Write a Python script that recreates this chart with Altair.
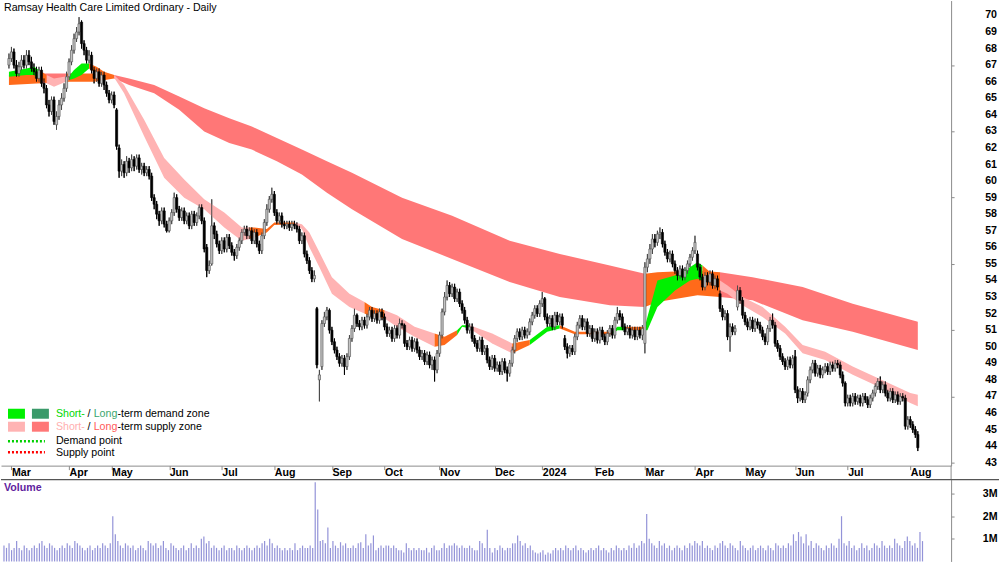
import altair as alt
import pandas as pd

FONT = "Liberation Sans"
FS = 10.67

TITLE = "Ramsay Health Care Limited Ordinary - Daily"

OPEN = [
    67.0, 67.4, 67.8, 67.0, 66.5, 66.9, 67.3, 67.0, 67.6, 67.2,
    66.8, 66.6, 66.2, 66.7, 65.9, 65.6, 64.6, 64.2, 64.9, 63.4,
    63.9, 64.6, 65.0, 65.6, 66.3, 67.2, 67.9, 68.6, 69.0, 69.6,
    68.3, 67.9, 67.3, 67.6, 66.7, 66.2, 66.6, 65.9, 66.4, 65.8,
    65.3, 64.9, 65.2, 64.3, 62.0, 60.6, 61.0, 60.5, 61.2, 60.8,
    61.3, 60.9, 61.4, 60.7, 60.9, 60.5, 60.7, 60.3, 59.0, 58.6,
    58.0, 57.6, 58.2, 57.4, 57.0, 57.6, 58.1, 59.0, 58.3, 57.8,
    58.2, 57.6, 57.9, 57.3, 58.0, 57.5, 57.9, 58.4, 57.6, 56.0,
    54.6, 55.0, 57.3, 56.8, 56.2, 55.8, 56.4, 55.9, 56.6, 56.1,
    55.7, 55.5, 56.0, 56.4, 56.9, 57.1, 56.7, 57.0, 56.4, 56.9,
    56.2, 55.8, 56.7, 57.5, 58.3, 58.9, 59.2, 58.1, 57.6, 57.9,
    57.4, 57.3, 57.4, 57.2, 57.4, 57.3, 57.1, 56.4, 56.7, 55.6,
    55.2, 54.6, 54.1, 52.3, 48.0, 48.8, 51.4, 51.8, 52.2, 51.0,
    50.3, 49.8, 49.4, 49.0, 49.3, 48.8, 49.4, 50.5, 51.1, 51.9,
    51.4, 51.2, 51.6, 51.3, 51.8, 52.2, 51.7, 52.0, 51.6, 52.1,
    51.8, 51.2, 50.8, 51.0, 50.5, 51.1, 50.7, 51.4, 51.3, 50.2,
    50.0, 50.4, 49.9, 50.3, 49.8, 49.4, 49.6, 49.1, 49.5, 48.9,
    49.2, 48.6, 49.6, 50.7, 52.1, 53.0, 53.7, 53.2, 53.6, 52.9,
    53.3, 52.6, 52.2, 51.6, 51.0, 51.2, 50.5, 50.2, 49.9, 50.4,
    49.7, 49.9, 49.2, 48.8, 49.3, 48.7, 48.9, 48.5, 49.1, 48.6,
    48.4, 49.0, 49.8, 50.5, 50.9, 50.6, 51.0, 50.7, 50.9, 51.5,
    51.9, 52.3, 52.0, 52.6, 52.9, 51.8, 51.4, 51.7, 51.2, 51.9,
    51.5, 51.8, 50.5, 50.0, 49.6, 49.9, 49.7, 50.6, 51.3, 51.7,
    51.2, 51.5, 50.8, 51.1, 50.5, 50.9, 50.4, 51.0, 50.6, 50.3,
    50.8, 51.1, 50.7, 51.6, 52.0, 51.8, 51.2, 50.9, 51.1, 50.7,
    51.0, 50.6, 51.0, 50.7, 50.2, 54.8, 55.3, 55.9, 56.5, 56.3,
    56.8, 56.9, 56.2, 55.7, 55.3, 55.6, 55.0, 54.6, 54.3, 54.7,
    54.2, 54.6, 55.0, 55.4, 55.8, 55.6, 54.8, 54.2, 53.6, 54.3,
    53.9, 54.4, 53.7, 54.1, 53.2, 52.3, 51.8, 52.0, 50.6, 51.2,
    50.9, 52.4, 53.4, 52.8, 51.9, 51.5, 51.2, 51.6, 51.1, 51.5,
    51.3, 51.0, 50.6, 50.3, 51.1, 51.6, 51.3, 50.2, 49.9, 49.4,
    49.1, 48.8, 49.2, 48.9, 49.4, 47.4, 46.9, 47.3, 46.8, 47.2,
    48.0, 48.6, 49.0, 48.4, 48.7, 48.3, 48.6, 48.8, 48.5, 48.9,
    48.7, 49.0, 48.9, 48.3, 47.8, 46.6, 46.9, 46.6, 47.0, 46.7,
    46.9, 46.6, 47.0, 46.8, 46.5, 46.9, 47.2, 47.6, 47.9, 47.4,
    47.7, 47.2, 46.9, 47.3, 46.8, 47.1, 46.7, 47.0, 46.9, 45.2,
    45.6, 45.3, 45.0, 44.7,
]

HIGH = [
    67.7, 68.1, 68.0, 67.3, 67.2, 67.6, 67.6, 67.9, 67.9, 67.5,
    67.1, 66.9, 66.9, 66.9, 66.2, 65.8, 64.9, 65.1, 65.1, 64.2,
    64.9, 65.3, 65.9, 66.6, 67.4, 68.2, 68.9, 69.3, 69.9, 69.7,
    68.5, 68.1, 67.9, 67.8, 66.9, 66.8, 66.8, 66.6, 66.6, 66.0,
    65.5, 65.4, 65.4, 64.4, 62.2, 61.3, 61.2, 61.5, 61.4, 61.6,
    61.5, 61.6, 61.6, 61.1, 61.1, 60.9, 60.9, 60.5, 59.2, 58.8,
    58.2, 58.4, 58.4, 57.6, 57.8, 58.3, 59.3, 59.2, 58.5, 58.4,
    58.4, 58.1, 58.1, 58.2, 58.2, 58.1, 58.6, 58.6, 57.8, 56.2,
    55.2, 58.9, 57.5, 57.0, 56.4, 56.6, 56.6, 56.8, 56.8, 56.3,
    55.9, 56.2, 56.6, 57.1, 57.3, 57.3, 57.2, 57.2, 57.1, 57.1,
    56.4, 56.9, 57.7, 58.6, 59.1, 59.6, 59.4, 58.3, 58.1, 58.1,
    57.6, 57.6, 57.6, 57.6, 57.6, 57.5, 57.3, 56.9, 56.9, 55.8,
    55.4, 54.8, 54.6, 52.4, 48.6, 51.6, 52.1, 52.4, 52.3, 51.2,
    50.5, 50.0, 49.6, 49.5, 49.5, 49.6, 50.7, 51.3, 52.3, 52.0,
    51.6, 51.8, 51.8, 52.0, 52.4, 52.4, 52.2, 52.2, 52.3, 52.3,
    52.0, 51.4, 51.2, 51.2, 51.3, 51.3, 51.7, 51.6, 51.4, 50.4,
    50.6, 50.6, 50.5, 50.5, 50.0, 49.8, 49.8, 49.7, 49.7, 49.4,
    49.4, 49.8, 50.9, 52.3, 53.3, 54.0, 53.9, 53.8, 53.8, 53.5,
    53.5, 52.8, 52.4, 51.8, 51.4, 51.4, 50.7, 50.4, 50.6, 50.6,
    50.1, 50.1, 49.4, 49.5, 49.5, 49.1, 49.1, 49.3, 49.3, 48.8,
    49.2, 50.0, 50.7, 51.1, 51.1, 51.2, 51.2, 51.1, 51.7, 52.1,
    52.5, 52.5, 52.8, 53.3, 53.0, 52.0, 51.9, 51.9, 52.1, 52.1,
    52.0, 52.0, 50.7, 50.2, 50.1, 50.1, 50.8, 51.5, 51.9, 51.9,
    51.7, 51.7, 51.3, 51.3, 51.1, 51.1, 51.2, 51.2, 50.8, 51.0,
    51.3, 51.3, 51.8, 52.4, 52.2, 52.0, 51.4, 51.3, 51.3, 51.2,
    51.2, 51.2, 51.2, 51.3, 55.1, 55.6, 56.2, 56.8, 56.8, 57.0,
    57.2, 57.1, 56.4, 55.9, 55.8, 55.8, 55.2, 54.8, 54.9, 54.9,
    54.8, 55.2, 55.6, 56.0, 56.7, 55.8, 55.0, 54.4, 54.5, 54.5,
    54.6, 54.6, 54.3, 54.3, 53.4, 52.5, 52.2, 52.2, 51.4, 51.4,
    51.3, 53.7, 53.6, 53.0, 52.1, 51.7, 51.8, 51.8, 51.7, 51.7,
    51.5, 51.2, 50.8, 51.3, 51.8, 52.0, 51.5, 50.4, 50.1, 49.6,
    49.3, 49.4, 49.4, 49.5, 49.8, 47.6, 47.5, 47.5, 47.3, 48.2,
    48.8, 49.2, 49.2, 48.9, 48.9, 48.8, 49.0, 49.0, 49.1, 49.1,
    49.2, 49.2, 49.1, 48.5, 47.9, 47.1, 47.1, 47.2, 47.2, 47.1,
    47.1, 47.2, 47.2, 47.0, 47.1, 47.4, 47.8, 48.1, 48.2, 47.9,
    47.9, 47.4, 47.5, 47.5, 47.3, 47.3, 47.2, 47.2, 47.1, 45.8,
    45.8, 45.5, 45.2, 44.9,
]

LOW = [
    66.8, 67.2, 66.8, 66.3, 66.3, 66.7, 66.8, 66.8, 67.0, 66.6,
    66.4, 66.0, 66.0, 65.7, 65.3, 64.4, 63.9, 64.0, 63.4, 63.1,
    63.7, 64.3, 64.8, 65.4, 66.1, 67.0, 67.7, 68.4, 68.8, 68.0,
    67.6, 67.1, 67.1, 66.5, 65.9, 66.0, 65.7, 65.7, 65.5, 65.1,
    64.7, 64.7, 64.4, 61.9, 60.2, 60.3, 60.2, 60.3, 60.5, 60.6,
    60.6, 60.7, 60.5, 60.4, 60.3, 60.3, 60.1, 58.8, 58.3, 57.7,
    57.3, 57.4, 57.2, 56.9, 56.9, 57.4, 57.9, 58.1, 57.6, 57.6,
    57.4, 57.4, 57.1, 57.1, 57.3, 57.3, 57.7, 57.4, 55.7, 54.2,
    54.4, 54.9, 56.5, 56.0, 55.6, 55.6, 55.7, 55.7, 55.9, 55.5,
    55.2, 55.3, 55.8, 56.2, 56.7, 56.5, 56.5, 56.2, 56.2, 56.0,
    55.6, 55.6, 56.5, 57.3, 58.1, 58.7, 57.9, 57.4, 57.4, 57.2,
    57.1, 57.1, 57.0, 57.0, 57.1, 56.9, 56.2, 56.2, 55.4, 55.0,
    54.4, 53.9, 53.9, 48.7, 46.7, 48.6, 51.2, 51.6, 50.8, 50.1,
    49.6, 49.2, 48.8, 48.8, 48.3, 48.6, 49.2, 50.3, 50.9, 51.2,
    51.0, 51.0, 51.1, 51.1, 51.6, 51.5, 51.5, 51.4, 51.4, 51.6,
    51.0, 50.6, 50.6, 50.3, 50.3, 50.5, 50.5, 51.1, 50.0, 49.8,
    49.8, 49.7, 49.7, 49.6, 49.2, 49.2, 48.9, 48.9, 48.7, 48.6,
    47.9, 48.4, 49.4, 50.5, 51.9, 52.8, 53.0, 53.0, 52.7, 52.7,
    52.4, 52.0, 51.4, 50.8, 50.8, 50.3, 50.0, 49.7, 49.7, 49.5,
    49.5, 49.0, 48.6, 48.6, 48.5, 48.5, 48.3, 48.3, 48.4, 47.9,
    48.2, 48.8, 49.6, 50.3, 50.4, 50.4, 50.5, 50.5, 50.7, 51.3,
    51.7, 51.8, 51.8, 52.4, 51.6, 51.2, 51.2, 51.0, 51.0, 51.3,
    51.3, 51.1, 49.8, 49.3, 49.4, 49.5, 49.5, 50.4, 51.1, 51.0,
    51.0, 50.6, 50.6, 50.3, 50.3, 50.2, 50.2, 50.4, 50.1, 50.1,
    50.6, 50.5, 50.5, 51.4, 51.6, 51.0, 50.7, 50.7, 50.5, 50.5,
    50.4, 50.4, 50.5, 50.4, 49.6, 54.5, 55.0, 55.6, 56.0, 56.1,
    56.5, 56.0, 55.5, 55.1, 55.1, 54.8, 54.4, 54.0, 54.1, 54.0,
    54.0, 54.4, 54.8, 55.2, 55.6, 54.6, 54.0, 53.4, 53.4, 53.7,
    53.7, 53.5, 53.5, 53.4, 52.1, 51.6, 51.6, 50.4, 49.7, 50.7,
    50.7, 52.2, 52.6, 51.7, 51.3, 51.0, 51.0, 50.9, 50.9, 51.1,
    50.8, 50.4, 50.1, 50.1, 50.9, 51.1, 50.0, 49.7, 49.2, 48.9,
    48.6, 48.6, 48.7, 48.7, 47.2, 46.6, 46.7, 46.6, 46.6, 47.0,
    47.8, 48.4, 48.2, 48.2, 48.1, 48.1, 48.4, 48.3, 48.3, 48.5,
    48.5, 48.7, 48.1, 47.6, 46.4, 46.4, 46.4, 46.4, 46.5, 46.5,
    46.4, 46.4, 46.6, 46.3, 46.3, 46.7, 47.0, 47.4, 47.2, 47.2,
    47.0, 46.7, 46.7, 46.6, 46.6, 46.5, 46.5, 46.7, 45.0, 45.0,
    45.1, 44.8, 44.5, 43.7,
]

CLOSE = [
    67.4, 67.8, 67.0, 66.5, 66.9, 67.3, 67.0, 67.6, 67.2, 66.8,
    66.6, 66.2, 66.7, 65.9, 65.6, 64.6, 64.2, 64.9, 63.6, 63.9,
    64.6, 65.0, 65.6, 66.3, 67.2, 67.9, 68.6, 69.0, 69.5, 68.3,
    67.9, 67.3, 67.6, 66.7, 66.2, 66.6, 65.9, 66.4, 65.8, 65.3,
    64.9, 65.2, 64.6, 62.1, 60.6, 61.0, 60.5, 61.2, 60.8, 61.3,
    60.9, 61.4, 60.7, 60.9, 60.5, 60.7, 60.3, 59.0, 58.6, 58.0,
    57.6, 58.2, 57.4, 57.0, 57.6, 58.1, 59.0, 58.3, 57.8, 58.2,
    57.6, 57.9, 57.3, 58.0, 57.5, 57.9, 58.4, 57.6, 55.9, 54.6,
    54.9, 57.3, 56.8, 56.2, 55.8, 56.4, 55.9, 56.6, 56.1, 55.7,
    55.5, 56.0, 56.4, 56.9, 57.1, 56.7, 57.0, 56.4, 56.9, 56.2,
    55.8, 56.7, 57.5, 58.3, 58.9, 59.2, 58.1, 57.6, 57.9, 57.4,
    57.3, 57.4, 57.2, 57.4, 57.3, 57.1, 56.4, 56.7, 55.6, 55.2,
    54.6, 54.1, 54.3, 48.9, 48.3, 51.4, 51.8, 52.2, 51.0, 50.3,
    49.8, 49.4, 49.0, 49.3, 48.8, 49.4, 50.5, 51.1, 51.9, 51.4,
    51.2, 51.6, 51.3, 51.8, 52.2, 51.7, 52.0, 51.6, 52.1, 51.8,
    51.2, 50.8, 51.0, 50.5, 51.1, 50.7, 51.4, 51.3, 50.2, 50.0,
    50.4, 49.9, 50.3, 49.8, 49.4, 49.6, 49.1, 49.5, 48.9, 49.2,
    48.6, 49.6, 50.7, 52.1, 53.0, 53.7, 53.2, 53.6, 52.9, 53.3,
    52.6, 52.2, 51.6, 51.0, 51.2, 50.5, 50.2, 49.9, 50.4, 49.7,
    49.9, 49.2, 48.8, 49.3, 48.7, 48.9, 48.5, 49.1, 48.6, 48.4,
    49.0, 49.8, 50.5, 50.9, 50.6, 51.0, 50.7, 50.9, 51.5, 51.9,
    52.3, 52.0, 52.6, 52.9, 51.8, 51.4, 51.7, 51.2, 51.9, 51.5,
    51.8, 51.3, 50.0, 49.6, 49.9, 49.7, 50.6, 51.3, 51.7, 51.2,
    51.5, 50.8, 51.1, 50.5, 50.9, 50.4, 51.0, 50.6, 50.3, 50.8,
    51.1, 50.7, 51.6, 52.0, 51.8, 51.2, 50.9, 51.1, 50.7, 51.0,
    50.6, 51.0, 50.7, 51.1, 54.8, 55.3, 55.9, 56.5, 56.3, 56.8,
    56.9, 56.2, 55.7, 55.3, 55.6, 55.0, 54.6, 54.3, 54.7, 54.2,
    54.6, 55.0, 55.4, 55.8, 56.3, 54.8, 54.2, 53.6, 54.3, 53.9,
    54.4, 53.7, 54.1, 53.6, 52.3, 51.8, 52.0, 50.6, 51.2, 50.9,
    51.1, 53.4, 52.8, 51.9, 51.5, 51.2, 51.6, 51.1, 51.5, 51.3,
    51.0, 50.6, 50.3, 51.1, 51.6, 51.3, 50.2, 49.9, 49.4, 49.1,
    48.8, 49.2, 48.9, 49.3, 47.4, 46.9, 47.3, 46.8, 47.1, 48.0,
    48.6, 49.0, 48.4, 48.7, 48.3, 48.6, 48.8, 48.5, 48.9, 48.7,
    49.0, 48.9, 48.3, 47.8, 46.6, 46.9, 46.6, 47.0, 46.7, 46.9,
    46.6, 47.0, 46.8, 46.5, 46.9, 47.2, 47.6, 47.9, 47.4, 47.7,
    47.2, 46.9, 47.3, 46.8, 47.1, 46.7, 47.0, 46.9, 45.2, 45.6,
    45.3, 45.0, 44.7, 43.9,
]

VOLUME_M = [
    0.7, 0.6, 0.8, 0.5, 0.6, 0.9, 0.6, 0.5, 0.7, 0.6,
    0.5, 0.6, 0.7, 0.6, 0.8, 0.9, 0.7, 0.6, 0.8, 0.7,
    0.6, 0.5, 0.6, 0.7, 0.6, 0.8, 0.7, 0.6, 0.9, 0.8,
    0.7, 0.6, 0.5, 0.6, 0.7, 0.5, 0.6, 0.7, 0.6, 0.8,
    0.7, 0.6, 0.8, 2.0, 1.2, 0.9, 0.7, 0.6, 0.8, 0.7,
    0.6, 0.7, 0.5, 0.6, 0.7, 0.6, 0.5, 0.9, 0.8, 0.7,
    0.8, 0.6, 0.7, 0.9, 0.6, 0.5, 0.8, 0.7, 0.6, 0.5,
    0.6, 0.7, 0.5, 0.6, 0.8, 0.6, 0.7, 0.6, 1.0, 1.1,
    0.8, 0.9, 0.6, 0.7, 0.6, 0.5, 0.6, 0.7, 0.5, 0.6,
    0.6, 0.5, 0.7, 0.6, 0.5, 0.6, 0.7, 0.6, 0.5, 0.6,
    0.7, 0.6, 0.8, 0.9, 0.7, 1.0, 0.8, 0.6, 0.7, 0.6,
    0.5, 0.6, 0.5, 0.6, 0.5, 0.8, 0.5, 0.6, 0.7, 0.6,
    0.6, 0.7, 0.6, 3.5, 2.3, 0.9, 0.95, 0.8, 1.5, 0.6,
    0.9, 0.7, 0.6, 0.85, 0.7, 0.8, 0.6, 0.6, 0.7, 0.6,
    0.8, 0.85, 0.6, 1.2, 0.7, 0.8, 1.15, 0.5, 0.6, 0.7,
    0.6, 0.7, 0.7, 0.6, 0.7, 0.6, 0.5, 0.5, 0.4, 0.8,
    0.6, 0.5, 0.6, 0.5, 0.6, 0.5, 0.5, 0.6, 0.4, 0.6,
    0.7, 0.5, 0.5, 0.6, 0.8, 0.6, 0.7, 0.7, 0.8, 0.7,
    0.6, 0.7, 0.6, 0.6, 0.7, 0.6, 0.5, 0.5, 0.9, 0.8,
    0.6, 1.4, 0.6, 0.4, 0.6, 0.5, 0.7, 0.6, 0.5, 0.6,
    0.6, 0.8, 0.8, 1.15, 0.9, 0.7, 0.8, 0.6, 0.7, 0.5,
    0.4, 0.35, 0.4, 0.5, 0.3, 0.4, 0.35, 0.5, 0.6, 0.5,
    0.6, 0.5, 0.7, 0.6, 0.5, 0.6, 0.7, 0.5, 0.6, 0.5,
    0.4, 0.5, 0.6, 0.5, 0.6, 0.7, 0.5, 0.6, 0.5, 0.4,
    0.6, 0.5, 0.7, 0.6, 0.5, 0.6, 0.5, 0.7, 0.6, 0.8,
    0.6, 0.7, 0.9, 0.8, 2.1, 1.0, 0.8, 0.7, 0.6, 0.9,
    0.7, 0.8, 0.6, 0.7, 0.5, 0.6, 0.7, 0.6, 0.5, 0.7,
    0.6, 0.8, 0.7, 0.9, 0.8, 0.7, 0.9, 0.6, 0.7, 0.6,
    0.5, 0.7, 0.6, 0.8, 0.9, 0.7, 0.6, 0.8, 0.7, 0.6,
    0.5, 0.9, 0.7, 0.6, 0.5, 0.6, 0.7, 0.5, 0.6, 0.7,
    0.6, 0.5, 0.7, 0.6, 0.5, 0.8, 0.7, 0.6, 0.7, 0.6,
    0.8, 0.7, 1.2, 0.9, 1.3, 1.1, 0.8, 1.2, 0.7, 0.9,
    0.6, 0.8, 0.7, 0.6, 0.5, 0.7, 0.6, 0.8, 0.7, 0.6,
    1.0, 2.0, 0.8, 0.7, 0.9, 0.6, 0.7, 0.5, 0.6, 0.8,
    0.6, 0.7, 0.5, 0.6, 0.8, 0.7, 0.6, 0.9, 0.7, 0.6,
    0.7, 0.6, 1.0, 0.8, 0.7, 0.6, 0.9, 1.1, 0.9, 0.7,
    0.8, 0.6, 1.3, 0.9,
]

# Long-term band (trading-day index, lower edge, upper edge) and zone of each interval
LONG_I = [0, 13, 23, 34, 42, 48, 58, 68, 78, 88, 97, 107, 117, 127, 137, 157, 177,
          200, 220, 240, 254, 259, 275, 284, 297, 317, 337, 363]
LONG_LO = [65.8, 65.9, 66.0, 66.0, 66.2, 65.8, 65.3, 64.3, 63.0, 62.3, 61.9, 61.2, 60.4,
           59.3, 58.3, 56.5, 55.3, 53.9, 53.0, 52.5, 52.4, 52.7, 53.1, 53.0, 52.8, 51.6,
           50.9, 49.8]
LONG_HI = [66.4, 66.5, 66.5, 66.5, 66.4, 66.2, 65.8, 65.1, 64.4, 63.8, 63.3, 62.6, 61.9,
           61.2, 60.5, 59.0, 57.9, 56.4, 55.6, 54.9, 54.4, 54.5, 54.6, 54.5, 54.2, 53.6,
           52.6, 51.5]
LONG_ZONE = ["mix", "ls", "mix", "mix", "ls", "ls", "ls", "ls", "ls", "ls", "ls", "ls",
             "ls", "ls", "ls", "ls", "ls", "ls", "ls", "ls", "mix", "mix", "mix", "ls",
             "ls", "ls", "ls"]

# Short-term band
SHORT_I = [0, 7, 10, 12, 15, 18, 22, 24, 26, 29, 32, 35, 38, 42, 46, 54, 62, 70, 78, 86,
           93, 96, 98, 103, 106, 114, 117, 120, 124, 129, 136, 142, 145, 150, 155, 162,
           170, 174, 179, 181, 184, 193, 201, 208, 215, 220, 226, 241, 243, 246, 254,
           255, 259, 266, 272, 275, 277, 284, 287, 293, 301, 310, 317, 326, 337, 350,
           360, 363]
SHORT_LO = [66.3, 66.4, 66.4, 66.2, 65.9, 65.7, 65.95, 66.1, 66.2, 66.4, 66.8, 66.5,
            66.3, 66.25, 65.3, 62.7, 60.2, 59.0, 58.3, 57.2, 56.4, 56.5, 56.6, 56.9,
            57.35, 57.4, 57.1, 56.0, 54.8, 53.2, 52.4, 52.0, 51.8, 51.7, 51.2, 50.6,
            50.0, 50.1, 50.7, 51.2, 51.1, 50.2, 49.6, 50.1, 50.9, 51.1, 50.75, 50.75,
            51.0, 51.0, 51.0, 51.0, 52.4, 53.4, 54.0, 54.1, 54.0, 53.4, 53.2, 52.5,
            51.8, 50.8, 49.6, 49.2, 48.3, 47.4, 46.6, 46.4]
SHORT_HI = [66.6, 66.8, 66.9, 66.7, 66.4, 66.2, 66.3, 66.35, 66.7, 67.1, 67.1, 66.9,
            66.6, 66.4, 65.8, 63.7, 61.4, 60.1, 58.9, 58.1, 57.2, 57.2, 57.2, 57.1,
            57.5, 57.5, 57.4, 56.9, 55.7, 54.2, 53.2, 52.7, 52.4, 52.2, 51.9, 51.2,
            50.8, 50.6, 51.0, 51.3, 51.3, 50.8, 50.2, 50.4, 51.2, 51.3, 50.9, 50.9,
            51.2, 51.2, 51.2, 51.8, 54.0, 54.3, 54.8, 55.1, 54.9, 54.0, 53.7, 53.0,
            52.4, 51.2, 50.1, 49.7, 48.8, 47.9, 47.2, 47.1]
SHORT_ZONE = ["sd", "sd", "sd", "mix", "ss", "ss", "ss", "sd", "sd", "sd", "mix",
              "mix", "mix", "ss", "ss", "ss", "ss", "ss", "ss", "ss", "ss", "mix",
              "mix", "mix", "mix", "ss", "ss", "ss", "ss", "ss", "ss", "mix", "mix",
              "ss", "ss", "ss", "mix", "mix", "sd", "sd", "ss", "ss", "mix", "sd",
              "sd", "mix", "mix", "sd", "sd", "mix", "sd", "sd", "sd", "sd", "sd",
              "sd", "mix", "ss", "ss", "ss", "ss", "ss", "ss", "ss", "ss", "ss", "ss"]

MONTH_TICKS = [1, 24, 41, 64, 85, 106, 129, 150, 172, 194, 213, 234, 254, 274, 294,
               314, 335, 360]
MONTH_LABELS = ["Mar", "Apr", "May", "Jun", "Jul", "Aug", "Sep", "Oct", "Nov", "Dec",
                "2024", "Feb", "Mar", "Apr", "May", "Jun", "Jul", "Aug"]
PRICE_TICKS = list(range(43, 71))
VOLUME_TICKS = [1, 2, 3]

ZONE_COLOR = {"sd": "#00F000", "ss": "#FFB3B3", "ls": "#FF7777", "mix": "#FF6A1A"}

W, H_PRICE, H_VOL = 952, 466, 82

bars = pd.DataFrame({
    "i": list(range(len(CLOSE))),
    "open": OPEN, "high": HIGH, "low": LOW, "close": CLOSE, "vol": VOLUME_M,
})


def band_frame(idx, lo, hi, zones, name):
    rows = []
    run = 0
    for k, z in enumerate(zones):
        if k > 0 and z != zones[k - 1]:
            run += 1
        for j in (k, k + 1):
            rows.append({"i": idx[j], "lo": lo[j], "hi": hi[j], "zone": z,
                         "seg": f"{name}{run}", "ord": j})
    return pd.DataFrame(rows).drop_duplicates(subset=["seg", "ord"]).reset_index(drop=True)


long_df = band_frame(LONG_I, LONG_LO, LONG_HI, LONG_ZONE, "L")
short_df = band_frame(SHORT_I, SHORT_LO, SHORT_HI, SHORT_ZONE, "S")

xscale = alt.Scale(domain=[-1.18, 374.3], nice=False, zero=False)
yscale = alt.Scale(domain=[42.82, 70.9], nice=False, zero=False)

label_expr = "".join(
    f"datum.value == {t} ? '{l}' : " for t, l in zip(MONTH_TICKS, MONTH_LABELS)
) + "''"

AX_GREY = "#8c8c8c"
x_axis = alt.Axis(values=MONTH_TICKS, labelExpr=label_expr, orient="bottom",
                  domain=True, domainColor=AX_GREY, ticks=True, tickColor=AX_GREY,
                  tickSize=4, labelAlign="left", labelBaseline="top",
                  labelPadding=-2, labelFont=FONT, labelFontSize=FS,
                  labelFontWeight="bold", labelColor="#000000", grid=False,
                  labelFlush=False, labelOverlap=False, title=None)
y_axis = alt.Axis(values=PRICE_TICKS, orient="right", domain=True,
                  domainColor=AX_GREY, ticks=True, tickColor=AX_GREY, tickSize=3,
                  labels=False, grid=False, title=None)


def band_layers(df):
    layers = []
    for zone, col in ZONE_COLOR.items():
        sub = df[df["zone"] == zone]
        if sub.empty:
            continue
        layers.append(
            alt.Chart(sub).mark_area(interpolate="linear", color=col, opacity=1).encode(
                x=alt.X("i:Q", scale=xscale),
                y=alt.Y("lo:Q", scale=yscale, stack=False),
                y2="hi:Q",
                detail="seg:N",
            )
        )
    return layers


up = "datum.close > datum.open"
wicks = alt.Chart(bars).mark_rule(strokeWidth=1).encode(
    x=alt.X("i:Q", scale=xscale, axis=x_axis),
    y=alt.Y("low:Q", scale=yscale, axis=y_axis),
    y2="high:Q",
    color=alt.condition(up, alt.value("#4a4a4a"), alt.value("#000000")),
)
bodies = alt.Chart(bars).mark_bar(size=2.2, strokeWidth=0.6).encode(
    x=alt.X("i:Q", scale=xscale),
    y=alt.Y("open:Q", scale=yscale, stack=False),
    y2="close:Q",
    fill=alt.condition(up, alt.value("#c4c4c4"), alt.value("#000000")),
    stroke=alt.condition(up, alt.value("#4a4a4a"), alt.value("#000000")),
)

# price labels on the right, positioned through the price scale
price_labels = alt.Chart(pd.DataFrame({"v": PRICE_TICKS})).mark_text(
    align="right", baseline="middle", font=FONT, fontSize=FS, fontWeight="bold",
    color="#000000",
).encode(
    x=alt.value(998),
    y=alt.Y("v:Q", scale=yscale),
    text=alt.Text("v:Q", format="d"),
)

ONE = pd.DataFrame({"k": [0]})


def text(t, x, y, color="#000000", size=FS, weight="normal"):
    return alt.Chart(ONE).mark_text(
        text=t, align="left", baseline="middle", font=FONT, fontSize=size,
        fontWeight=weight, color=color,
    ).encode(x=alt.value(x), y=alt.value(y))


def square(x0, x1, y0, y1, color):
    return alt.Chart(ONE).mark_rect(color=color).encode(
        x=alt.value(x0), x2=alt.value(x1), y=alt.value(y0), y2=alt.value(y1))


def dotted(x0, x1, y, color):
    return alt.Chart(ONE).mark_rule(color=color, strokeWidth=2.5,
                                    strokeDash=[2, 2]).encode(
        x=alt.value(x0), x2=alt.value(x1), y=alt.value(y))


TX = 55
legend = [
    square(7, 24, 409, 419, "#00F000"),
    square(31, 48, 409, 419, "#3a9a6a"),
    text("Short-", TX, 414, "#00D800"),
    text("/", TX + 31.7, 414),
    text("Long", TX + 37.9, 414, "#3aa66e"),
    text("-term demand zone", TX + 61.7, 414),
    square(7, 24, 422, 432, "#FFB3B3"),
    square(31, 48, 422, 432, "#FF7777"),
    text("Short-", TX, 427, "#FFAFAF"),
    text("/", TX + 31.7, 427),
    text("Long", TX + 37.9, 427, "#FF5A5A"),
    text("-term supply zone", TX + 61.7, 427),
    dotted(7, 44, 441.5, "#00D000"),
    text("Demand point", TX, 441),
    dotted(7, 44, 452.5, "#FF0000"),
    text("Supply point", TX, 453),
]

title = text(TITLE, 3, 7)
axis_join = alt.Chart(ONE).mark_rule(color=AX_GREY).encode(
    x=alt.value(W), y=alt.value(H_PRICE), y2=alt.value(H_PRICE + 14))

price = alt.layer(wicks, *band_layers(long_df), *band_layers(short_df), wicks, bodies,
                  price_labels, title, axis_join, *legend).properties(
    width=W, height=H_PRICE)

vol_axis = alt.Axis(values=VOLUME_TICKS, labelExpr="datum.value + 'M'", orient="right",
                    domain=True, domainColor=AX_GREY, ticks=True,
                    tickColor=AX_GREY, tickSize=3, labelAlign="right",
                    labelPadding=43, labelFont=FONT, labelFontSize=FS,
                    labelFontWeight="bold", labelColor="#000000", grid=False,
                    title=None)
vol_bars = alt.Chart(bars).mark_rule(strokeWidth=1.2, color="#9393d8").encode(
    x=alt.X("i:Q", scale=xscale, axis=None),
    y=alt.Y("vol:Q", scale=alt.Scale(domain=[0, 3.62], nice=False), axis=vol_axis),
    y2=alt.datum(0),
)
vol_top = alt.Chart(ONE).mark_rule(color="#555555", strokeWidth=1.3).encode(
    x=alt.value(0), x2=alt.value(1000), y=alt.value(0))
vol_title = text("Volume", 3, 8, "#5f1d9e", weight="bold")

volume = alt.layer(vol_bars, vol_top, vol_title).properties(width=W, height=H_VOL)

chart = alt.vconcat(price, volume, spacing=14, bounds="flush").properties(
    padding={"left": 0, "top": 0, "right": 0, "bottom": 0},
    background="#ffffff",
).configure_view(stroke=None).configure_axis(labelOverlap=False)

chart.save("out.html", embed_options={"renderer": "svg", "actions": False})
